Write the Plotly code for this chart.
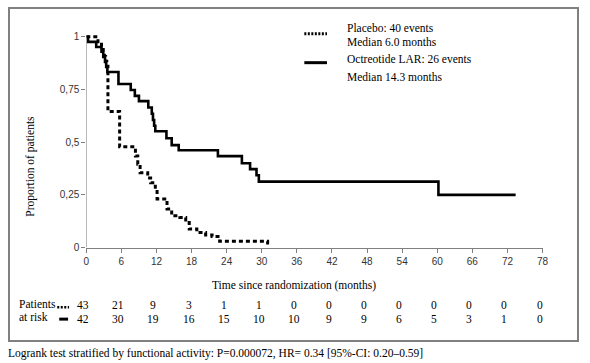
import plotly.graph_objects as go

# ---------------- data ----------------
octreotide_t = [0, 0.3, 1.7, 2.6, 2.9, 3.2, 3.4, 3.6, 5.5, 7.6, 8.3, 9.0, 10.6, 11.2, 11.4,
                11.6, 11.8, 13.7, 14.6, 15.8, 22.5, 26.6, 28.0, 29.1, 29.5, 60.2, 73.4]
octreotide_s = [1.0, 0.976, 0.952, 0.929, 0.905, 0.881, 0.857, 0.833, 0.776, 0.748, 0.720,
                0.695, 0.665, 0.635, 0.605, 0.578, 0.552, 0.519, 0.486, 0.462, 0.434, 0.400,
                0.372, 0.343, 0.313, 0.250, 0.250]

placebo_t = [0, 2.0, 2.6, 2.9, 3.1, 3.3, 3.5, 3.7, 5.7, 8.4, 8.8, 9.2, 10.5, 11.0, 11.8,
             12.1, 13.8, 14.6, 16.0, 17.0, 17.6, 18.9, 20.4, 21.5, 22.8, 31.0]
placebo_s = [1.0, 0.977, 0.953, 0.930, 0.907, 0.884, 0.860, 0.646, 0.478, 0.434, 0.395,
             0.355, 0.330, 0.307, 0.274, 0.231, 0.183, 0.151, 0.143, 0.119, 0.088, 0.071,
             0.060, 0.052, 0.030, 0.0]
placebo_end = 31.0

x_ticks = list(range(0, 79, 6))
y_ticks = [0, 0.25, 0.5, 0.75, 1]
y_ticktext = ["0", "0,25", "0,5", "0,75", "1"]

risk_placebo = [43, 21, 9, 3, 1, 1, 0, 0, 0, 0, 0, 0, 0, 0]
risk_octreotide = [42, 30, 19, 16, 15, 10, 10, 9, 9, 6, 5, 3, 1, 0]

legend_lines = ["Placebo: 40 events", "Median 6.0 months",
                "Octreotide LAR: 26 events", "Median 14.3 months"]
x_title = "Time since randomization (months)"
y_title = "Proportion of patients"
caption = "Logrank test stratified by functional activity: P=0.000072, HR= 0.34 [95%-CI: 0.20\u20130.59]"

# ---------------- layout geometry (page pixels) ----------------
W, H = 590, 363
BX0, BX1, BY0, BY1 = 7, 583, 7, 340          # outer frame
L, R, T, B = 84.5, 548.0, 24.4, 247.0         # main plot area


def px(x):
    return (x - BX0) / (BX1 - BX0)


def py(y):
    return (BY1 - y) / (BY1 - BY0)


SERIF = "Liberation Serif, Times New Roman, serif"
SANS = "Liberation Sans, Arial, sans-serif"

fig = go.Figure()

pt = placebo_t[:-1] + [placebo_end - 0.001, placebo_end]
ps = placebo_s[:-1] + [placebo_s[-2], placebo_s[-1]]
fig.add_trace(go.Scatter(x=pt, y=ps, mode="lines", line_shape="hv",
                         line=dict(color="black", width=3, dash="4px,3px"),
                         showlegend=False, hoverinfo="skip"))
fig.add_trace(go.Scatter(x=octreotide_t, y=octreotide_s, mode="lines", line_shape="hv",
                         line=dict(color="black", width=2.6),
                         showlegend=False, hoverinfo="skip"))
# empty trace for the frame subplot
fig.add_trace(go.Scatter(x=[None], y=[None], xaxis="x2", yaxis="y2", mode="lines",
                         showlegend=False, hoverinfo="skip"))

shapes = []
shapes.append(dict(type="line", xref="x", yref="y", x0=0, x1=0, y0=0, y1=1,
                   line=dict(color="#808080", width=1)))
shapes.append(dict(type="line", xref="paper", yref="paper", x0=px(306), x1=px(329),
                   y0=py(32), y1=py(32), line=dict(color="black", width=3, dash="2px,1.5px")))
shapes.append(dict(type="line", xref="paper", yref="paper", x0=px(306), x1=px(329),
                   y0=py(61), y1=py(61), line=dict(color="black", width=3)))
shapes.append(dict(type="line", xref="paper", yref="paper", x0=px(55), x1=px(67),
                   y0=py(307), y1=py(307), line=dict(color="black", width=2.5, dash="2px,1.5px")))
shapes.append(dict(type="line", xref="paper", yref="paper", x0=px(57), x1=px(66),
                   y0=py(319), y1=py(319), line=dict(color="black", width=3)))

ann = []
leg_y = [26, 40, 57, 75]
for txt, yy in zip(legend_lines, leg_y):
    ann.append(dict(text=txt, xref="paper", yref="paper", x=px(347), y=py(yy),
                    xanchor="left", yanchor="middle", showarrow=False,
                    font=dict(family=SERIF, size=11.5, color="black")))

ann.append(dict(text=x_title, xref="paper", yref="paper", x=px(295), y=py(285),
                xanchor="center", yanchor="middle", showarrow=False,
                font=dict(family=SERIF, size=11.5, color="black")))
ann.append(dict(text=y_title, xref="paper", yref="paper", x=px(27), y=py(165),
                xanchor="center", yanchor="middle", showarrow=False, textangle=-90,
                font=dict(family=SERIF, size=11.5, color="black")))
ann.append(dict(text="Patients", xref="paper", yref="paper", x=px(14), y=py(304),
                xanchor="left", yanchor="middle", showarrow=False,
                font=dict(family=SERIF, size=11.5, color="black")))
ann.append(dict(text="at risk", xref="paper", yref="paper", x=px(14), y=py(317),
                xanchor="left", yanchor="middle", showarrow=False,
                font=dict(family=SERIF, size=11.5, color="black")))
for xv, a, b in zip(x_ticks, risk_placebo, risk_octreotide):
    ann.append(dict(text=str(a), xref="x", yref="paper", x=xv, y=py(305), xshift=-3,
                    xanchor="center", yanchor="middle", showarrow=False,
                    font=dict(family=SERIF, size=11.5, color="black")))
    ann.append(dict(text=str(b), xref="x", yref="paper", x=xv, y=py(319), xshift=-3,
                    xanchor="center", yanchor="middle", showarrow=False,
                    font=dict(family=SERIF, size=11.5, color="black")))
ann.append(dict(text=caption, xref="paper", yref="paper", x=px(3), y=py(354),
                xanchor="left", yanchor="middle", showarrow=False,
                font=dict(family=SERIF, size=11.5, color="black")))

frame_axis = dict(domain=[0, 1], range=[0, 1], showline=True, mirror=True,
                  linecolor="#808080", linewidth=1.6, showgrid=False, zeroline=False,
                  showticklabels=False, ticks="", fixedrange=True)

fig.update_layout(
    width=W, height=H, autosize=False,
    margin=dict(l=BX0, r=W - BX1, t=BY0, b=H - BY1, pad=0),
    paper_bgcolor="white", plot_bgcolor="rgba(0,0,0,0)",
    shapes=shapes, annotations=ann, showlegend=False,
    xaxis=dict(domain=[px(L), px(R)], range=[0, 78], tickvals=x_ticks, ticks="outside",
               ticklen=4, tickcolor="#808080", showline=True, linecolor="#808080",
               linewidth=1, showgrid=False, zeroline=False, anchor="y",
               tickfont=dict(family=SANS, size=10, color="#333333")),
    yaxis=dict(domain=[py(B), py(T)], range=[0, 1.05], tickvals=y_ticks,
               ticktext=y_ticktext, ticks="outside", ticklen=4, tickcolor="#808080",
               showline=False, showgrid=False, zeroline=False, anchor="x",
               tickfont=dict(family=SANS, size=10, color="#333333")),
    xaxis2=dict(anchor="y2", **frame_axis),
    yaxis2=dict(anchor="x2", **frame_axis),
)

fig.write_html("out.html", config={"displayModeBar": False},
               post_script="document.body.style.margin='0';document.body.style.overflow='hidden';")
